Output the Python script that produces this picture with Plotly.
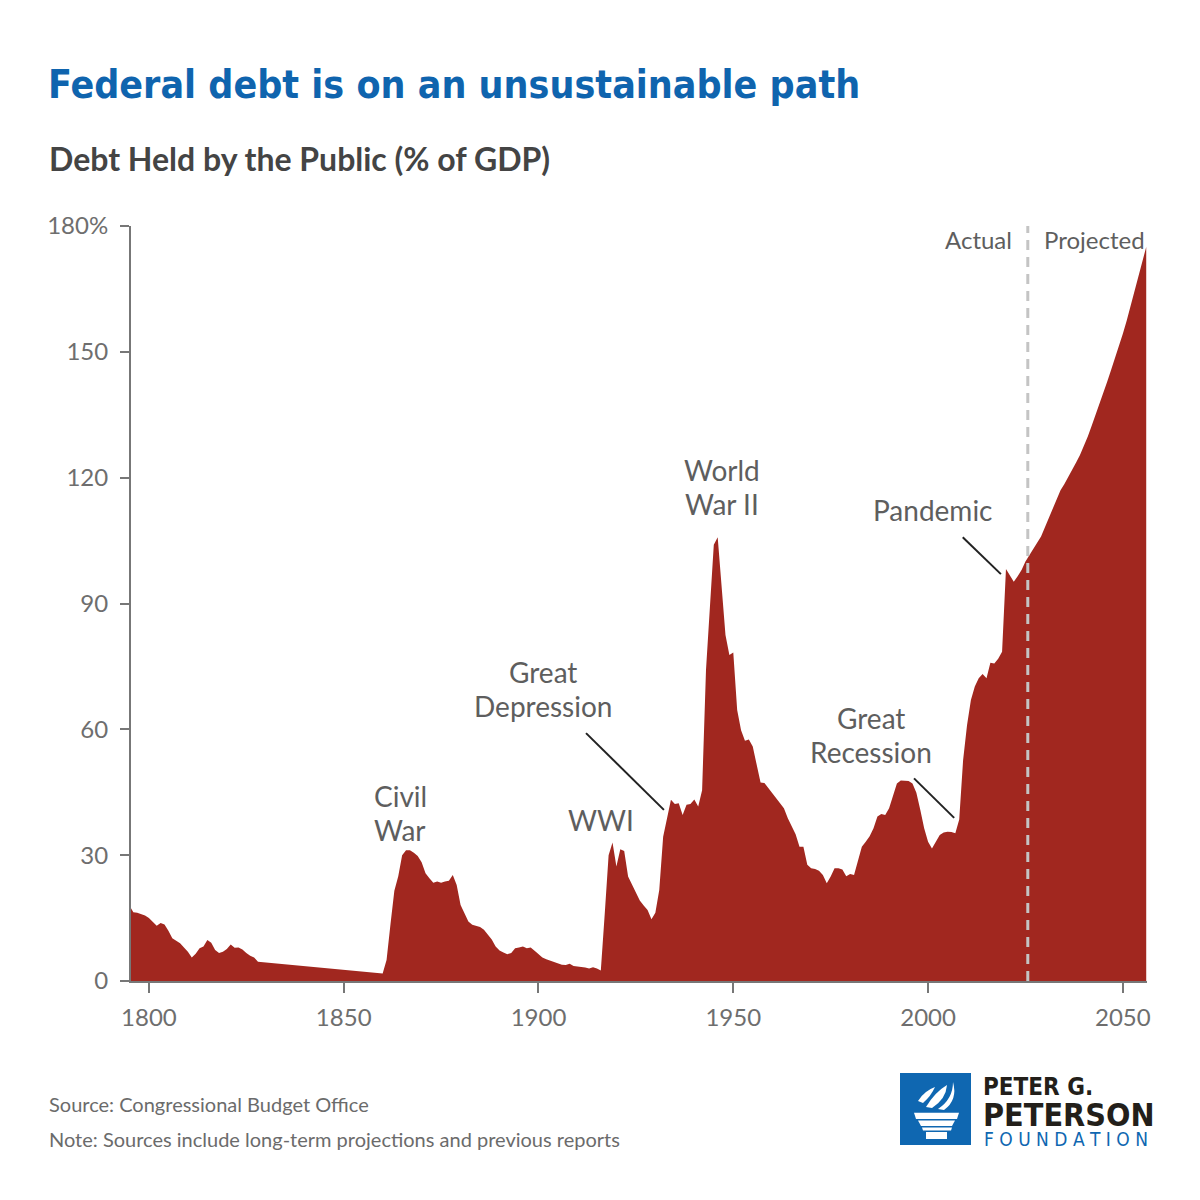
import plotly.graph_objects as go

# Debt held by the public, % of GDP
years = [1795, 1796, 1797, 1798, 1799, 1800, 1801, 1802, 1803, 1804, 1805, 1806, 1807, 1808, 1809,
         1810, 1811, 1812, 1813, 1814, 1815, 1816, 1817, 1818, 1819, 1820, 1821, 1822, 1823, 1824,
         1825, 1826, 1827, 1828, 1860, 1861, 1862, 1863, 1864, 1865, 1866, 1867, 1868, 1869, 1870,
         1871, 1872, 1873, 1874, 1875, 1876, 1877, 1878, 1879, 1880, 1881, 1882, 1883, 1884, 1885,
         1886, 1887, 1888, 1889, 1890, 1891, 1892, 1893, 1894, 1895, 1896, 1897, 1898, 1899, 1900,
         1901, 1902, 1903, 1904, 1905, 1906, 1907, 1908, 1909, 1910, 1911, 1912, 1913, 1914, 1915,
         1916, 1917, 1918, 1919, 1920, 1921, 1922, 1923, 1924, 1925, 1926, 1927, 1928, 1929, 1930,
         1931, 1932, 1933, 1934, 1935, 1936, 1937, 1938, 1939, 1940, 1941, 1942, 1943, 1944, 1945,
         1946, 1947, 1948, 1949, 1950, 1951, 1952, 1953, 1954, 1955, 1956, 1957, 1958, 1959, 1960,
         1961, 1962, 1963, 1964, 1965, 1966, 1967, 1968, 1969, 1970, 1971, 1972, 1973, 1974, 1975,
         1976, 1977, 1978, 1979, 1980, 1981, 1982, 1983, 1984, 1985, 1986, 1987, 1988, 1989, 1990,
         1991, 1992, 1993, 1994, 1995, 1996, 1997, 1998, 1999, 2000, 2001, 2002, 2003, 2004, 2005,
         2006, 2007, 2008, 2009, 2010, 2011, 2012, 2013, 2014, 2015, 2016, 2017, 2018, 2019, 2020,
         2021, 2022, 2023, 2024, 2025, 2026, 2027, 2028, 2029, 2030, 2031, 2032, 2033, 2034, 2035,
         2036, 2037, 2038, 2039, 2040, 2041, 2042, 2043, 2044, 2045, 2046, 2047, 2048, 2049, 2050,
         2051, 2052, 2053, 2054, 2055, 2056]
debt = [18.0, 16.4, 16.3, 16.0, 15.6, 15.0, 14.0, 13.2, 13.8, 13.5, 12.0, 10.2, 9.6, 9.0, 8.0,
        7.0, 5.6, 6.5, 7.8, 8.2, 9.8, 9.1, 7.4, 6.7, 7.0, 7.6, 8.7, 7.9, 8.0, 7.5,
        6.7, 6.0, 5.6, 4.6, 1.8, 5.0, 13.5, 21.5, 25.0, 30.0, 31.2, 31.2, 30.6, 29.8, 28.3,
        25.7, 24.5, 23.4, 23.7, 23.4, 23.7, 23.9, 25.3, 22.9, 18.1, 16.2, 14.2, 13.4, 13.1, 12.9,
        12.2, 11.0, 9.9, 8.2, 7.3, 6.8, 6.4, 6.7, 7.8, 8.0, 8.2, 7.8, 8.0, 7.2, 6.3,
        5.6, 5.2, 4.9, 4.5, 4.2, 3.9, 3.8, 4.1, 3.6, 3.5, 3.4, 3.2, 3.0, 3.3, 3.0,
        2.5, 16.0, 30.0, 33.0, 27.3, 31.4, 31.0, 24.9, 23.0, 21.0, 19.2, 18.0, 16.9, 14.7, 16.3,
        21.7, 34.4, 38.8, 43.2, 42.2, 42.4, 39.6, 42.0, 42.2, 43.3, 41.6, 45.5, 74.2, 88.5, 104.0,
        105.8, 94.0, 82.5, 77.7, 78.3, 64.6, 59.8, 57.3, 57.6, 55.9, 51.9, 47.3, 47.2, 46.0, 44.8,
        43.6, 42.5, 41.2, 38.8, 37.0, 35.0, 32.0, 32.0, 27.7, 26.9, 26.7, 26.3, 25.3, 23.3, 24.9,
        26.9, 26.9, 26.6, 25.0, 25.5, 25.3, 28.9, 32.0, 33.2, 34.5, 36.4, 39.2, 39.8, 39.6, 41.2,
        44.3, 47.1, 47.8, 47.8, 47.7, 47.1, 44.9, 40.8, 36.4, 33.2, 31.6, 33.2, 34.8, 35.4, 35.6,
        35.5, 35.2, 38.5, 52.7, 61.0, 67.0, 70.2, 72.2, 73.2, 72.2, 75.9, 75.7, 76.8, 78.5, 98.2,
        96.8, 95.2, 96.5, 98.0, 100.0, 101.5, 102.7, 104.2, 106.0, 108.2, 110.3, 112.5, 114.8, 117.0, 118.5,
        120.1, 122.0, 123.6, 125.4, 127.5, 129.8, 132.4, 134.9, 137.5, 140.2, 142.9, 145.7, 148.4, 151.2, 154.3,
        157.5, 160.9, 164.4, 167.8, 171.3, 175.0]

y_ticks = [0, 30, 60, 90, 120, 150, 180]
y_tick_text = ['0', '30', '60', '90', '120', '150', '180%']
x_ticks = [1800, 1850, 1900, 1950, 2000, 2050]

events = [['Civil', 'War'], ['WWI'], ['Great', 'Depression'], ['World', 'War II'],
          ['Great', 'Recession'], ['Pandemic']]
event_x = [1864.5, 1916.1, 1901.2, 1947.1, 1985.4, 2001.3]
event_y = [40.0, 38.4, 69.6, 117.8, 58.7, 112.3]

split_year = 2025.6

RED = '#A1271F'
GREY_TXT = '#5e5e5e'
AXIS = '#777777'
BLUE = '#0F64AE'
NARROW = 'DejaVu Sans Condensed, Liberation Sans Narrow, Roboto, sans-serif'

# page pixels -> paper coords (plot area spans x 131..1147, y 226..981 on the page)
def px(x):
    return (x - 131) / 1016

def py(y):
    return (981 - y) / 755

def path(cmds):
    out = []
    for c in cmds:
        if isinstance(c, str):
            out.append(c)
        else:
            out.append(f'{px(c[0]):.5f},{py(c[1]):.5f}')
    return ' '.join(out)

fig = go.Figure()
fig.add_trace(go.Scatter(x=years, y=debt, mode='lines', fill='tozeroy',
                         line=dict(width=0, color=RED), fillcolor=RED,
                         hoverinfo='x+y', showlegend=False))

# page body has an 8px margin, so the figure margins are shifted by 8
fig.update_layout(
    width=1200, height=1200,
    margin=dict(l=123, r=61, t=218, b=227),
    plot_bgcolor='white', paper_bgcolor='white',
    font=dict(family='Lato, sans-serif', color=GREY_TXT),
    xaxis=dict(range=[1795.4, 2056.2], tickvals=x_ticks, showgrid=False, zeroline=False,
               showline=True, linecolor=AXIS, linewidth=2, ticks='outside', ticklen=10,
               tickwidth=2, tickcolor=AXIS, tickfont=dict(size=24, color='#6e6e6e'),
               ticklabelstandoff=4),
    yaxis=dict(range=[0, 180], tickvals=y_ticks, ticktext=y_tick_text, showgrid=False,
               zeroline=False, showline=True, linecolor=AXIS, linewidth=2, ticks='outside',
               ticklen=9, tickwidth=2, tickcolor=AXIS, tickfont=dict(size=24, color='#6e6e6e'),
               ticklabelstandoff=7),
)

# event labels, one annotation per line (line spacing ~34px = 8.1 units)
for lines, x, y in zip(events, event_x, event_y):
    n = len(lines)
    for i, t in enumerate(lines):
        fig.add_annotation(x=x, y=y + (n - 1 - 2 * i) * 4.05, xref='x', yref='y', text=t,
                           showarrow=False, font=dict(size=28, color=GREY_TXT))

fig.add_annotation(x=split_year - 3.5, y=176.7, xref='x', yref='y', text='Actual', showarrow=False,
                   xanchor='right', font=dict(size=24, color=GREY_TXT))
fig.add_annotation(x=split_year + 3.6, y=176.7, xref='x', yref='y', text='Projected', showarrow=False,
                   xanchor='left', font=dict(size=24, color=GREY_TXT))

# leader lines
for x0, y0, x1, y1 in [(1912.2, 59.1, 1932.2, 40.8), (1996.4, 48.3, 2006.7, 38.9),
                       (2008.9, 105.8, 2018.7, 97.0)]:
    fig.add_shape(type='line', xref='x', yref='y', x0=x0, y0=y0, x1=x1, y1=y1,
                  line=dict(color='#222222', width=2))

fig.add_shape(type='line', xref='x', yref='y', x0=split_year, x1=split_year, y0=0, y1=180,
              line=dict(color='#C4C4C4', width=3, dash='10px,7px'))

# titles
fig.add_annotation(x=px(46), y=py(84), xref='paper', yref='paper', xanchor='left', yanchor='middle',
                   text='<b>Federal debt is on an unsustainable path</b>', showarrow=False,
                   font=dict(family=NARROW, size=39, color=BLUE))
fig.add_annotation(x=px(47), y=py(158), xref='paper', yref='paper', xanchor='left', yanchor='middle',
                   text='<b>Debt Held by the Public (% of GDP)</b>', showarrow=False,
                   font=dict(family='Lato', size=32, color='#444444'))

# footer
fig.add_annotation(x=px(47), y=py(1104), xref='paper', yref='paper', xanchor='left', yanchor='middle',
                   text='Source: Congressional Budget Office', showarrow=False,
                   font=dict(family='Lato', size=20, color='#6b6b6b'))
fig.add_annotation(x=px(47), y=py(1139), xref='paper', yref='paper', xanchor='left', yanchor='middle',
                   text='Note: Sources include long-term projections and previous reports', showarrow=False,
                   font=dict(family='Lato', size=20, color='#6b6b6b'))

# logo
fig.add_shape(type='rect', xref='paper', yref='paper', x0=px(900), x1=px(971), y0=py(1145), y1=py(1073),
              fillcolor='#0F67B1', line=dict(width=0))
torch = [
    ['M', (914, 1112.7), 'L', (959, 1112.7), 'L', (957, 1119), 'L', (916, 1119), 'Z'],
    ['M', (918, 1120.5), 'L', (955, 1120.5), 'L', (952, 1126), 'L', (921, 1126), 'Z'],
    ['M', (922, 1127.5), 'L', (952, 1127.5), 'L', (951, 1130.5), 'L', (923, 1130.5), 'Z'],
    ['M', (926, 1132), 'L', (947, 1132), 'L', (947, 1139), 'L', (926, 1139), 'Z'],
    ['M', (938, 1109), 'Q', (953, 1099), (953, 1082), 'Q', (958, 1100), (944, 1110), 'Z'],
    ['M', (926, 1107), 'Q', (935, 1092), (947, 1085), 'Q', (946, 1099), (932, 1108), 'Z'],
    ['M', (918, 1101), 'Q', (924, 1091), (935, 1087), 'Q', (931, 1096), (923, 1103), 'Z'],
]
for p in torch:
    fig.add_shape(type='path', xref='paper', yref='paper', path=path(p),
                  fillcolor='white', line=dict(width=0))

fig.add_annotation(x=px(981), y=py(1087), xref='paper', yref='paper', xanchor='left', yanchor='middle',
                   text='<b>PETER G.</b>', showarrow=False,
                   font=dict(family=NARROW, size=24, color='#231F1A'))
fig.add_annotation(x=px(981), y=py(1115), xref='paper', yref='paper', xanchor='left', yanchor='middle',
                   text='<b>PETERSON</b>', showarrow=False,
                   font=dict(family=NARROW, size=32, color='#231F1A'))
fig.add_annotation(x=px(982), y=py(1139), xref='paper', yref='paper', xanchor='left', yanchor='middle',
                   text='F O U N D A T I O N', showarrow=False,
                   font=dict(family=NARROW, size=19, color='#0F67B1'))

fig.write_html('out.html')
